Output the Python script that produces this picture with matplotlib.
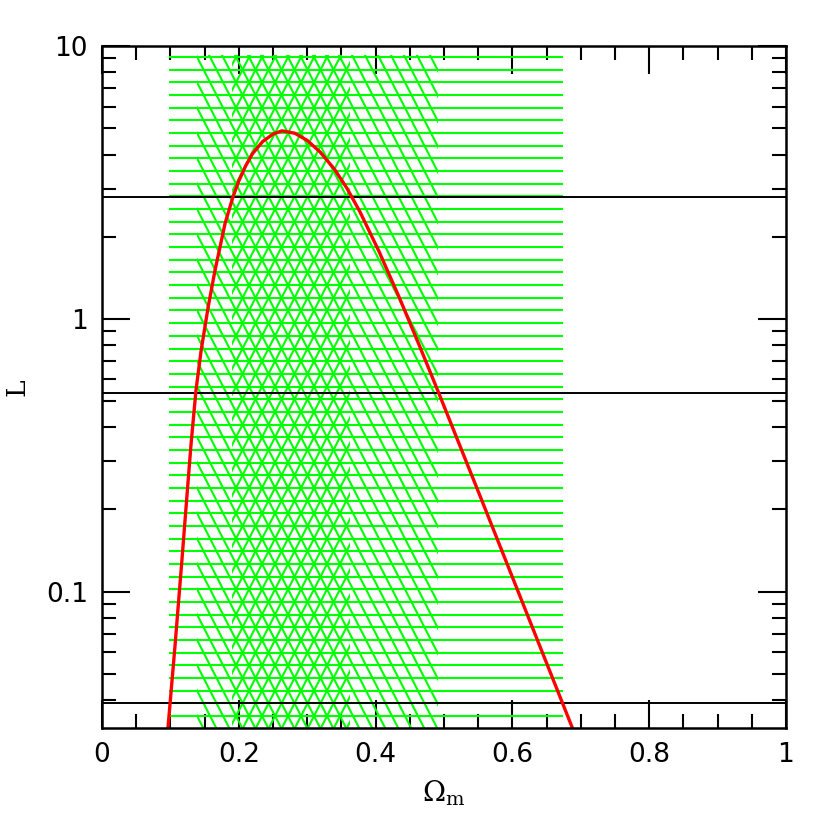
import matplotlib
matplotlib.use("Agg")
import matplotlib.pyplot as plt
import matplotlib.patches as mpatches
from matplotlib.collections import LineCollection
from matplotlib.ticker import FixedLocator, NullFormatter
import numpy as np

plt.rcParams["mathtext.fontset"] = "dejavuserif"

# likelihood curve (Omega_m, log10 L)
omega_m = [0.0965, 0.1067, 0.117, 0.124, 0.130, 0.1374, 0.145, 0.155, 0.165,
           0.180, 0.1915, 0.200, 0.210, 0.220, 0.235, 0.250, 0.2632, 0.282,
           0.300, 0.319, 0.340, 0.358, 0.377, 0.405, 0.435, 0.465, 0.493,
           0.553, 0.611, 0.674, 0.687]
log_L = [-1.498, -1.200, -0.880, -0.655, -0.465, -0.262, -0.115, 0.040, 0.175,
         0.350, 0.447, 0.505, 0.560, 0.605, 0.650, 0.677, 0.689, 0.680,
         0.654, 0.611, 0.548, 0.479, 0.393, 0.247, 0.076, -0.104, -0.276,
         -0.651, -1.016, -1.413, -1.495]
L = [10 ** v for v in log_L]

# confidence levels (horizontal black lines)
levels = [2.8, 0.536, 0.0389]

# Omega_m ranges where the curve is above each level
range_3sig = (0.100, 0.672)   # horizontal hatching
range_2sig = (0.139, 0.491)   # "\" hatching
range_1sig = (0.190, 0.362)   # "/" hatching

GREEN = "#00ff00"
ROW = 0.01858      # hatch row spacing (axes fraction)
ROW0 = 0.0176      # lowest hatch row
DX = 0.0095        # x shift per row (data units)
HATCH_TOP = 0.987


def diag_lines(ax, xr, sign, lo, hi):
    y_ref = ROW0 + 52 * ROW
    segs = []
    for n in range(-80, 80):
        xc = xr + 2 * DX * n
        y_a, y_b = -0.05, 1.05
        x_a = xc + sign * (y_ref - y_a) / ROW * DX
        x_b = xc + sign * (y_ref - y_b) / ROW * DX
        segs.append([(x_a, y_a), (x_b, y_b)])
    trans = ax.get_xaxis_transform()
    lc = LineCollection(segs, colors=GREEN, linewidths=1.5, transform=trans)
    clip = mpatches.Rectangle((lo, 0), hi - lo, HATCH_TOP, transform=trans,
                              facecolor="none", edgecolor="none")
    ax.add_patch(clip)
    ax.add_collection(lc)
    lc.set_clip_path(clip)


fig = plt.figure(figsize=(8.3, 8.3), dpi=100)
ax = fig.add_axes([0.1229, 0.1229, 0.824, 0.8217])
ax.set_yscale("log")
ax.set_xlim(0, 1)
ax.set_ylim(10 ** -1.5, 10)

# horizontal hatching
trans = ax.get_xaxis_transform()
for y in np.arange(ROW0, HATCH_TOP, ROW):
    ax.plot(range_3sig, [y, y], color=GREEN, lw=1.5, transform=trans)

diag_lines(ax, range_2sig[0], 1, *range_2sig)
diag_lines(ax, range_2sig[0], -1, *range_1sig)

for lev in levels:
    ax.axhline(lev, color="black", lw=1.4)

ax.plot(omega_m, L, color="red", lw=2.4)

ax.xaxis.set_major_locator(FixedLocator([0, 0.2, 0.4, 0.6, 0.8, 1.0]))
ax.xaxis.set_minor_locator(FixedLocator(np.arange(0, 1.001, 0.05)))
ax.set_xticklabels(["0", "0.2", "0.4", "0.6", "0.8", "1"])
ax.set_yticks([0.1, 1, 10])
ax.set_yticklabels(["0.1", "1", "10"])
minor_y = [m * 10.0 ** e for e in (-2, -1, 0) for m in range(2, 10)]
ax.yaxis.set_minor_locator(FixedLocator([v for v in minor_y if v > 0.0316]))
ax.yaxis.set_minor_formatter(NullFormatter())

ax.tick_params(which="both", direction="in", top=True, right=True, width=1.5,
               labelsize=19, pad=10)
ax.tick_params(which="major", length=20)
ax.tick_params(which="minor", length=10)
for s in ax.spines.values():
    s.set_linewidth(1.8)

ax.set_xlabel(r"$\Omega_{\rm m}$", fontsize=20, labelpad=8)
ax.set_ylabel("L", fontsize=19, labelpad=12, family="DejaVu Serif")

fig.savefig("out.png", dpi=100)
